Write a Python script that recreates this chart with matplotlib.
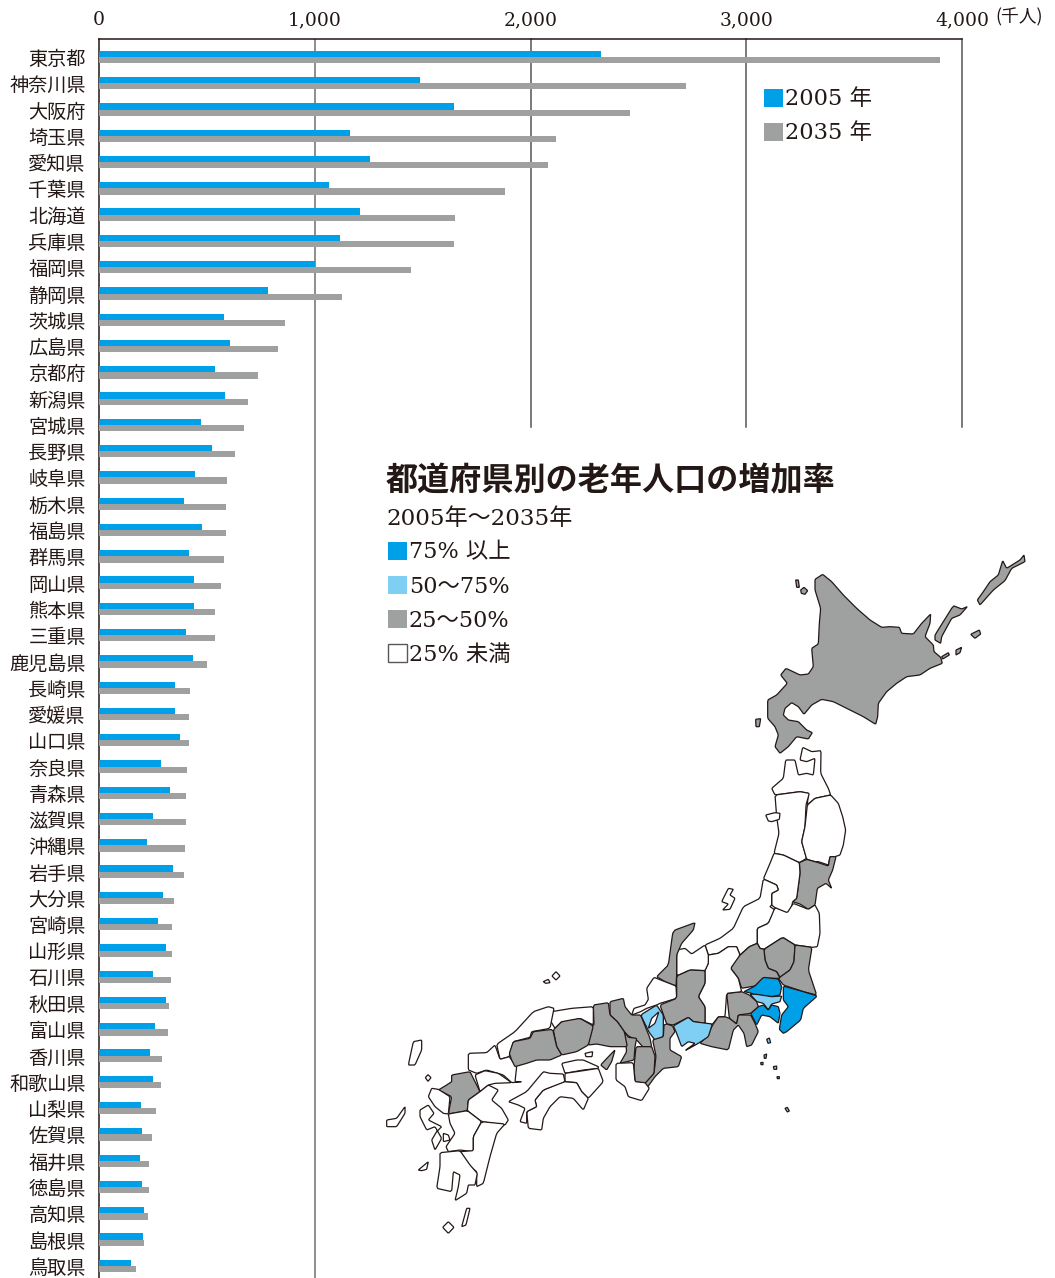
import matplotlib
matplotlib.use("Agg")
import matplotlib.pyplot as plt
from matplotlib.patches import Polygon, Rectangle
import numpy as np

JP = "Noto Sans CJK JP"
NUM_FONT = ["DejaVu Serif", JP]
INK = "#231815"
BLUE = "#00A0E9"
LIGHT = "#7FCEF4"
GRAY = "#9FA0A0"

prefectures = ["東京都", "神奈川県", "大阪府", "埼玉県", "愛知県", "千葉県", "北海道", "兵庫県", "福岡県", "静岡県",
               "茨城県", "広島県", "京都府", "新潟県", "宮城県", "長野県", "岐阜県", "栃木県", "福島県", "群馬県",
               "岡山県", "熊本県", "三重県", "鹿児島県", "長崎県", "愛媛県", "山口県", "奈良県", "青森県", "滋賀県",
               "沖縄県", "岩手県", "大分県", "宮崎県", "山形県", "石川県", "秋田県", "富山県", "香川県", "和歌山県",
               "山梨県", "佐賀県", "福井県", "徳島県", "高知県", "島根県", "鳥取県"]
pop_2005 = [2327, 1488, 1645, 1163, 1256, 1066, 1210, 1117, 1001, 783,
            579, 607, 538, 584, 473, 524, 445, 394, 477, 417,
            440, 440, 403, 436, 352, 352, 375, 287, 329, 250,
            222, 343, 297, 273, 311, 250, 311, 260, 236, 250,
            195, 199, 190, 199, 209, 204, 148]
pop_2035 = [3898, 2721, 2461, 2118, 2081, 1882, 1650, 1645, 1446, 1126,
            862, 830, 737, 691, 672, 630, 593, 589, 589, 579,
            565, 538, 538, 501, 422, 417, 417, 408, 403, 403,
            399, 394, 348, 338, 338, 334, 324, 320, 292, 287,
            264, 246, 232, 232, 227, 209, 171]
x_ticks = [0, 1000, 2000, 3000, 4000]
x_tick_labels = ["0", "1,000", "2,000", "3,000", "4,000"]
bar_legend = [("2005 年", BLUE), ("2035 年", GRAY)]
map_legend = [("75% 以上", BLUE), ("50〜75%", LIGHT), ("25〜50%", GRAY), ("25% 未満", "white")]

# map outlines, in crop coordinates
north_shapes = [
    (GRAY, [(345,118),(368,103),(395,125),(430,165),(470,205),(510,240),(545,262),(570,260),(598,262),(605,280),(640,282),(665,250),(692,222),(690,250),(675,290),(700,315),(702,335),(722,352),(727,370),(690,385),(660,405),(620,410),(590,430),(560,455),(535,490),(533,530),(527,553),(490,530),(440,505),(400,485),(365,478),(335,495),(312,523),(295,500),(275,488),(255,505),(250,525),(265,540),(295,545),(320,570),(337,578),(325,597),(290,590),(265,620),(240,640),(225,620),(235,585),(225,560),(203,535),(203,480),(230,465),(262,430),(242,405),(258,385),(300,405),(325,402),(340,380),(335,325),(355,312),(358,250),(362,205),(345,150)]),
    (GRAY, [(705,285),(760,197),(785,207),(802,200),(780,225),(755,235),(725,290),(722,310),(705,300)]),
    (GRAY, [(832,180),(850,155),(870,125),(895,105),(908,62),(920,85),(960,60),(972,45),(975,65),(935,85),(915,122),(880,150),(840,195)]),
    (GRAY, [(812,283),(838,270),(842,282),(825,295)]),
    (GRAY, [(725,350),(745,338),(748,345),(728,357)]),
    (GRAY, [(302,150),(312,142),(323,152),(315,163),(304,160)]),
    (GRAY, [(287,120),(295,120),(298,142),(290,142)]),
    (GRAY, [(167,538),(182,536),(178,560),(168,560)]),
    (GRAY, [(768,330),(785,322),(780,338),(768,345)]),
    ("white", [(215,745),(250,715),(257,660),(285,660),(295,705),(320,700),(340,705),(345,655),(320,665),(300,660),(308,622),(335,635),(363,632),(362,700),(385,745),(392,765),(345,775),(322,795),(325,760),(300,755),(225,765)]),
    ("white", [(225,765),(300,755),(328,760),(318,795),(315,860),(305,905),(320,955),(298,968),(250,945),(222,940),(237,880),(230,830)]),
    ("white", [(197,825),(225,818),(240,820),(238,838),(215,845),(205,843)]),
    ("white", [(322,795),(345,775),(392,765),(415,790),(428,830),(437,870),(430,915),(420,945),(405,950),(390,950),(385,975),(355,965),(345,965),(320,958),(305,905),(315,860)]),
    (GRAY, [(298,968),(320,958),(355,968),(385,978),(390,950),(408,950),(398,990),(385,1020),(395,1045),(378,1030),(352,1045),(345,1095),(325,1108),(300,1092),(278,1085),(290,1075),(300,1000)]),
    ("white", [(222,940),(250,945),(298,968),(300,1000),(290,1075),(278,1085),(272,1115),(255,1120),(225,1103),(215,1095),(215,1060),(235,1050),(230,1035),(190,1017),(210,970)]),
    ("white", [(85,1045),(100,1048),(90,1065),(105,1075),(90,1108),(68,1110),(85,1092),(65,1085)]),
]
south_shapes = [
    ("white", [(1150,-63),(1140,-5),(1090,20),(1060,85),(1020,115),(975,135),(985,165),(1015,160),(1045,140),(1070,140),(1080,165),(1108,140),(1132,130),(1132,85),(1165,70),(1185,30),(1170,20),(1175,15),(1175,-20),(1195,-30),(1190,-45)]),
    ("white", [(1185,23),(1222,38),(1240,10),(1285,28),(1305,15),(1318,40),(1320,100),(1312,140),(1296,142),(1245,135),(1208,112),(1152,148),(1140,145),(1132,130),(1132,85),(1165,70)]),
    (GRAY, [(1152,148),(1208,112),(1245,135),(1242,185),(1230,210),(1200,232),(1190,215),(1165,205),(1155,180)]),
    (GRAY, [(1245,135),(1296,142),(1285,210),(1310,285),(1270,275),(1210,255),(1195,235),(1230,210),(1242,185)]),
    (GRAY, [(1052,205),(1070,175),(1108,140),(1132,130),(1140,145),(1152,148),(1155,180),(1165,205),(1190,215),(1200,235),(1150,235),(1125,258),(1085,265),(1075,235)]),
    (BLUE, [(1092,275),(1125,258),(1150,232),(1195,237),(1205,260),(1200,285),(1175,290),(1130,285),(1108,278)]),
    (BLUE, [(1210,258),(1270,275),(1312,288),(1270,325),(1262,360),(1220,395),(1210,400),(1198,388),(1205,345),(1225,320),(1210,300)]),
    (LIGHT, [(1110,282),(1130,283),(1175,290),(1205,288),(1200,305),(1175,312),(1165,330),(1150,310),(1130,305)]),
    (BLUE, [(1135,320),(1150,315),(1165,330),(1175,315),(1195,320),(1200,340),(1195,370),(1170,350),(1145,345),(1130,375),(1112,340)]),
    (GRAY, [(1040,280),(1085,275),(1108,285),(1130,305),(1135,320),(1112,340),(1075,345),(1070,372),(1048,355)]),
    (GRAY, [(1035,350),(1048,355),(1070,372),(1075,345),(1112,345),(1125,370),(1135,395),(1115,435),(1100,440),(1092,400),(1075,375),(1060,390),(1045,450),(995,440),(960,430),(980,410),(998,375),(1015,350)]),
    ("white", [(985,165),(1015,160),(1045,140),(1070,140),(1080,165),(1052,205),(1075,235),(1085,275),(1040,280),(1035,350),(1015,350),(998,372),(975,375),(975,320),(955,290),(975,250),(975,210),(985,190)]),
    ("white", [(890,150),(915,145),(935,162),(975,135),(985,165),(985,190),(975,212),(930,210),(890,228)]),
    (GRAY, [(878,100),(885,90),(945,68),(940,90),(905,130),(890,165),(890,225),(888,258),(855,245),(830,230),(865,195)]),
    ("white", [(822,232),(855,245),(888,258),(890,295),(840,310),(830,315),(800,325),(782,335),(755,345),(762,325),(795,315),(805,298),(800,265)]),
    (GRAY, [(890,228),(930,210),(975,212),(975,250),(955,290),(975,320),(975,370),(940,365),(925,352),(880,375),(860,372),(840,315),(890,295)]),
    (LIGHT, [(880,378),(925,352),(940,365),(997,372),(985,410),(955,430),(915,452),(945,430),(925,425),(905,440),(888,395)]),
    (LIGHT, [(782,345),(830,315),(850,345),(850,410),(825,420),(808,398)]),
    ("white", [(815,355),(837,335),(825,370),(805,385)]),
    (GRAY, [(860,372),(878,378),(885,395),(870,415),(870,450),(905,470),(895,500),(850,505),(825,530),(800,565),(795,548),(822,520),(828,468),(818,420),(850,410),(852,375)]),
    (GRAY, [(690,305),(730,295),(735,320),(755,345),(782,345),(810,415),(815,440),(790,442),(770,420),(745,408),(733,395),(712,365),(690,345)]),
    (GRAY, [(733,395),(745,412),(770,415),(765,440),(762,480),(720,490),(740,455)]),
    (GRAY, [(768,440),(815,440),(825,468),(822,520),(795,550),(765,545),(762,500)]),
    (GRAY, [(640,315),(685,308),(690,345),(712,365),(733,395),(742,440),(690,440),(650,432),(625,435),(630,380),(642,375)]),
    (GRAY, [(690,465),(705,450),(695,485),(680,510),(662,495)]),
    ("white", [(708,490),(760,488),(765,545),(795,548),(808,565),(785,602),(745,590),(735,560),(708,540)]),
    ("white", [(510,360),(515,335),(575,325),(640,320),(640,375),(600,355),(570,365),(545,365),(525,385)]),
    (GRAY, [(520,390),(545,365),(600,355),(640,378),(625,435),(590,455),(545,465),(530,440)]),
    ("white", [(350,433),(405,395),(460,335),(505,320),(522,325),(510,385),(455,395),(450,412),(400,425),(388,470),(360,478)]),
    ("white", [(265,460),(320,458),(345,435),(360,478),(388,470),(395,480),(410,500),(405,545),(425,545),(395,548),(370,525),(320,510),(290,520),(265,510)]),
    (GRAY, [(400,425),(450,415),(460,395),(518,388),(530,440),(545,465),(510,480),(470,480),(440,490),(405,500),(395,480),(388,460)]),
    (GRAY, [(215,525),(270,515),(285,545),(300,575),(265,600),(262,632),(205,642),(215,590),(175,570),(200,555),(215,545)]),
    ("white", [(285,525),(315,512),(355,520),(395,548),(345,550),(325,555),(300,575)]),
    ("white", [(300,575),(325,555),(355,570),(335,600),(365,625),(385,660),(375,675),(305,665),(262,632),(265,600)]),
    ("white", [(155,565),(175,568),(210,590),(205,642),(190,640),(165,620),(145,590)]),
    ("white", [(205,642),(262,632),(305,665),(280,710),(280,755),(240,750),(205,755),(198,740),(225,700),(210,670)]),
    ("white", [(305,665),(375,672),(350,700),(330,770),(310,850),(290,860),(290,815),(270,800),(240,755),(280,752),(280,710)]),
    ("white", [(180,758),(240,752),(270,795),(292,820),(285,855),(265,855),(260,880),(225,902),(235,860),(240,825),(220,815),(215,875),(170,865),(180,800)]),
    ("white", [(120,630),(145,615),(162,640),(145,660),(185,680),(170,695),(155,720),(165,750),(185,715),(165,680),(140,690),(120,650)]),
    ("white", [(190,700),(205,705),(210,720),(190,725)]),
    ("white", [(20,660),(50,655),(75,620),(75,640),(50,680),(20,680)]),
    ("white", [(545,490),(590,480),(610,480),(655,500),(655,505),(610,510),(555,520)]),
    ("white", [(555,520),(610,512),(655,505),(670,545),(625,595),(605,575),(590,548),(555,545)]),
    ("white", [(490,570),(550,545),(590,548),(605,575),(625,595),(610,630),(580,595),(540,590),(510,620),(490,655),(485,690),(445,685),(440,635),(470,620),(465,600)]),
    ("white", [(385,605),(440,575),(490,515),(510,520),(550,522),(555,545),(490,570),(465,600),(470,620),(440,635),(440,670),(420,665),(435,625),(415,615)]),
    ("white", [(100,425),(125,420),(125,450),(105,495),(85,495)]),
    ("white", [(136,533),(144,524),(153,533),(144,544)]),
    ("white", [(516,228),(528,215),(540,228),(528,240)]),
    ("white", [(490,245),(505,238),(510,248),(497,250)]),
    ("white", [(115,810),(145,785),(140,808),(125,812)]),
    ("white", [(188,982),(205,965),(222,982),(205,1000)]),
    ("white", [(260,925),(270,925),(258,975),(245,980)]),
    ("white", [(615,460),(638,455),(636,470),(618,470)]),
    (LIGHT, [(1160,418),(1168,414),(1172,428),(1164,430)]),
    (LIGHT, [(1152,465),(1160,462),(1158,475),(1153,475)]),
    (LIGHT, [(1180,500),(1190,498),(1190,508),(1182,508)]),
    (LIGHT, [(1142,488),(1149,487),(1149,494),(1143,494)]),
    (LIGHT, [(1191,530),(1198,530),(1198,536),(1192,536)]),
    (LIGHT, [(1215,625),(1222,622),(1228,633),(1222,636)]),
]

fig = plt.figure(figsize=(10.55, 12.78), dpi=100)
W, H = 1055, 1278

# bar chart, axes placed on the picture's plot frame
left, right, top, bottom = 99, 962, 39, 1278
ax = fig.add_axes([left / W, 1 - bottom / H, (right - left) / W, (bottom - top) / H])
row = 26.28
y = np.arange(len(prefectures))
bar_h = 6.2 / row
ax.barh(y - bar_h / 2, pop_2005, bar_h, color=BLUE, zorder=3)
ax.barh(y + bar_h / 2, pop_2035, bar_h, color=GRAY, zorder=3)
ax.set_xlim(0, 4000)
ax.set_ylim((bottom - 57) / row, (top - 57) / row)

short = (bottom - 427) / (bottom - top)
ax.axvline(1000, color="#6f6f6f", lw=1.1, zorder=1)
for v in [2000, 3000, 4000]:
    ax.axvline(v, ymin=short, ymax=1, color="#555555", lw=1.1, zorder=1, clip_on=False)
for side in ["right", "bottom"]:
    ax.spines[side].set_visible(False)
for side in ["left", "top"]:
    ax.spines[side].set_color(INK)
    ax.spines[side].set_linewidth(1.1)

ax.xaxis.tick_top()
ax.set_xticks(x_ticks)
ax.set_xticklabels(x_tick_labels, family=NUM_FONT, fontsize=13.5, color=INK)
ax.tick_params(axis="x", length=0, pad=7)
ax.set_yticks(y)
ax.set_yticklabels(prefectures, family=JP, fontsize=13.8, color=INK)
ax.tick_params(axis="y", length=0, pad=9.5)

# overlay in picture pixels for map and the free text
ov = fig.add_axes([0, 0, 1, 1], facecolor="none")
ov.set_xlim(0, W)
ov.set_ylim(H, 0)
ov.axis("off")

ov.text(995, 17, "(千人)", family=JP, fontsize=12.8, color=INK, va="center")

for i, (label, color) in enumerate(bar_legend):
    yy = 98 + 34 * i
    ov.add_patch(Rectangle((764, yy - 9.5), 19, 18, fc=color, ec="none"))
    ov.text(785, yy + 1, label, family=NUM_FONT, fontsize=16.2, color=INK, va="center")

ov.text(386, 481, "都道府県別の老年人口の増加率", family=JP, weight="bold", fontsize=23.1, color=INK, va="center")
ov.text(386, 519, "2005年〜2035年", family=NUM_FONT, fontsize=16.6, color=INK, va="center")
for i, (label, color) in enumerate(map_legend):
    yy = 551 + 34.3 * i
    ec = "#595757" if color == "white" else "none"
    ov.add_patch(Rectangle((387.5, yy - 9.5), 19, 18, fc=color, ec=ec, lw=1))
    ov.text(409, yy + 1.5, label, family=NUM_FONT, fontsize=16.1, color=INK, va="center")


def round_corners(pts, cut=0.08):
    # cut each corner a little so the traced outlines look less angular
    nxt = np.roll(pts, -1, axis=0)
    a = pts + (nxt - pts) * cut
    b = nxt - (nxt - pts) * cut
    return np.column_stack([a, b]).reshape(-1, 2)


def add_shapes(shapes, x0, y0):
    for color, pts in shapes:
        pts = np.array(pts, dtype=float) / 3 + [x0, y0]
        ov.add_patch(Polygon(round_corners(pts), closed=True, fc=color, ec=INK, lw=0.9, joinstyle="round"))


add_shapes(north_shapes, 700, 540)
add_shapes(south_shapes, 380, 900)

fig.savefig("out.png", dpi=100, facecolor="white")
